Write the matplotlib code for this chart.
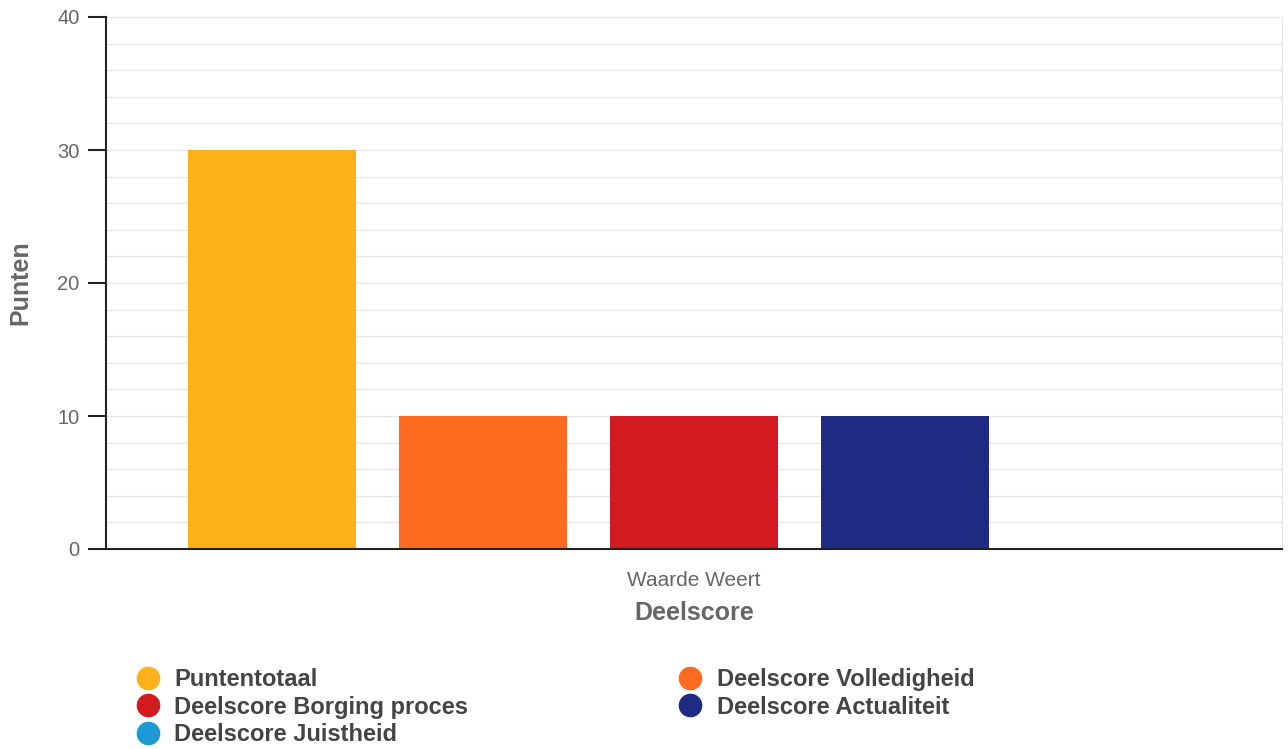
import matplotlib
matplotlib.use("Agg")
import matplotlib.pyplot as plt
from matplotlib.lines import Line2D
from matplotlib.ticker import MultipleLocator

plt.rcParams['font.family'] = ['Liberation Sans', 'DejaVu Sans']

category = "Waarde Weert"
series = ["Puntentotaal", "Deelscore Volledigheid", "Deelscore Borging proces",
          "Deelscore Actualiteit", "Deelscore Juistheid"]
values = [30, 10, 10, 10, 0]
colors = ["#FBB117", "#FE6A20", "#D21A21", "#1F2A82", "#1C9AD6"]
y_ticks = [0, 10, 20, 30, 40]

fig = plt.figure(figsize=(12.88, 7.49), dpi=100)
ax = fig.add_axes([106/1288, 1-549/749, (1282-106)/1288, (549-17)/749])

step = 211/1176
width = 168/1176
n = len(series)
for i, (s, v, c) in enumerate(zip(series, values, colors)):
    ax.bar((i - (n-1)/2) * step, v, width=width, color=c, label=s, zorder=3)

ax.set_xlim(-0.5, 0.5)
ax.set_ylim(0, 40)
ax.set_yticks(y_ticks)
ax.yaxis.set_minor_locator(MultipleLocator(2))
ax.grid(True, axis='y', which='both', color='#e6e6e6', linewidth=1, zorder=0)
ax.tick_params(axis='y', which='major', length=13, width=1.5, color='#222222',
               labelsize=14.5, labelcolor='#666666', pad=6)
ax.tick_params(axis='y', which='minor', length=0)
ax.set_xticks([0])
ax.set_xticklabels([category])
ax.tick_params(axis='x', length=0, labelsize=15, labelcolor='#666666', pad=16)

ax.spines['top'].set_visible(False)
ax.spines['right'].set_color('#e6e6e6')
ax.spines['left'].set_color('#222222')
ax.spines['left'].set_linewidth(1.5)
ax.spines['bottom'].set_color('#222222')
ax.spines['bottom'].set_linewidth(1.5)
ax.spines['bottom'].set_zorder(5)

ax.set_ylabel("Punten", fontsize=18, fontweight='bold', color='#666666', labelpad=18)
ax.set_xlabel("Deelscore", fontsize=18, fontweight='bold', color='#666666', labelpad=8)

handles = [Line2D([], [], marker='o', linestyle='none', markersize=16,
                  markerfacecolor=c, markeredgecolor=c) for c in colors]
order = [0, 2, 4, 1, 3]
fig.legend([handles[i] for i in order], [series[i] for i in order],
           ncol=2, loc='upper left', bbox_to_anchor=(136/1288, 1-668/749),
           frameon=False, prop={'size': 17, 'weight': 'bold'},
           labelcolor='#444444', handletextpad=0.62, labelspacing=0.2,
           columnspacing=8.9, handlelength=1.0, borderpad=0, borderaxespad=0)

fig.savefig("out.png", dpi=100)
